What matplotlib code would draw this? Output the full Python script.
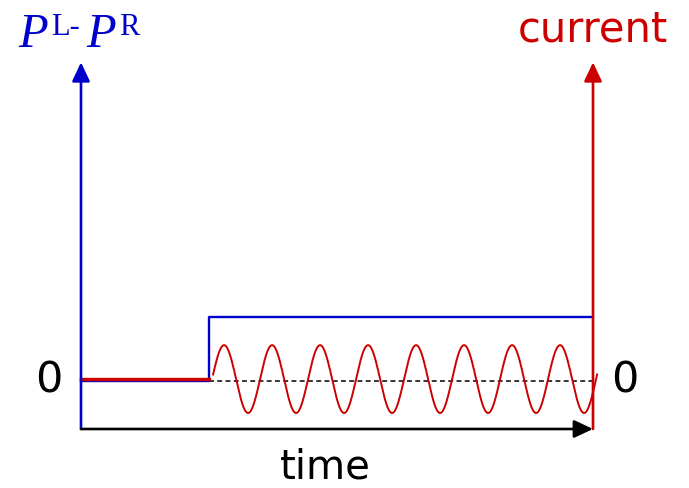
import numpy as np
import matplotlib.pyplot as plt

BLUE = '#0000cc'
RED = '#cc0000'

# bias step: P^L - P^R
step_t = [0.0, 0.25, 0.25, 1.0]
bias = [0.0, 0.0, 1.0, 1.0]

# current: flat before the step, oscillating after it
current_offset = 0.03
flat_t = [0.0, 0.25]
osc_start, osc_end = 0.258, 1.008
osc_phase0 = 0.256
osc_period = 0.09375
osc_amp = 0.53

axis_bottom = -0.75
axis_top = 4.98


def draw_arrow(ax, x0, y0, x1, y1, color):
    ax.annotate('', xy=(x1, y1), xytext=(x0, y0),
                arrowprops=dict(arrowstyle='-|>,head_length=11.5,head_width=5.4',
                                mutation_scale=1, color=color, lw=1.9,
                                shrinkA=0, shrinkB=0))


fig = plt.figure(figsize=(6.89, 4.88), dpi=100)
ax = fig.add_axes([0, 0, 1, 1])
ax.set_xlim(-0.1582, 1.1875)
ax.set_ylim(-1.672, 5.953)
ax.axis('off')

# axes
draw_arrow(ax, 0.0, axis_bottom, 0.0, axis_top, BLUE)
draw_arrow(ax, 1.0, axis_bottom, 1.0, axis_top, RED)
draw_arrow(ax, 0.0, axis_bottom, 1.0, axis_bottom, 'black')

ax.plot(step_t, bias, color=BLUE, lw=1.7)
ax.plot([0.25, 1.0], [0, 0], color='black', lw=1.1, dashes=(3.2, 2.2))

t = np.linspace(osc_start, osc_end, 800)
cur = current_offset + osc_amp * np.sin(2 * np.pi * (t - osc_phase0) / osc_period)
ax.plot(t, cur, color=RED, lw=1.4)
ax.plot(flat_t, [current_offset, current_offset], color=RED, lw=2.4)

# labels
ax.text(-0.0625, 0.0, '0', fontsize=31, ha='center', va='center')
ax.text(1.0625, 0.0, '0', fontsize=31, ha='center', va='center')
ax.text(0.4775, -1.53, 'time', fontsize=29, ha='center', va='baseline')
ax.text(1.0, 5.297, 'current', fontsize=30, color=RED, ha='center', va='baseline')

serif = 'Liberation Serif'
ax.text(-0.122, 5.22, 'P', fontsize=35, family=serif, style='italic', color=BLUE)
ax.text(-0.058, 5.41, 'L-', fontsize=22, family=serif, color=BLUE)
ax.text(0.010, 5.22, 'P', fontsize=35, family=serif, style='italic', color=BLUE)
ax.text(0.074, 5.41, 'R', fontsize=22, family=serif, color=BLUE)

fig.savefig('out.png', dpi=100)
